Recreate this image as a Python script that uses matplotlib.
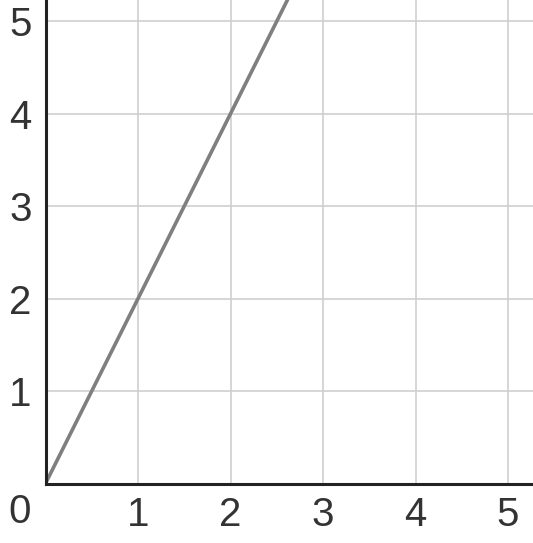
import matplotlib
matplotlib.use("Agg")
import matplotlib.pyplot as plt

line_x = [0, 2.7]
line_y = [0, 5.4]
x_ticks = [1, 2, 3, 4, 5]
y_ticks = [1, 2, 3, 4, 5]
origin_label = "0"

W, H = 533, 543
fig = plt.figure(figsize=(W / 100, H / 100), dpi=100)
x0, y0 = 45.5, 483.5
ax = fig.add_axes([x0 / W, (H - y0) / H, (W - x0) / W, y0 / H])
ax.set_xlim(0, 5.27)
ax.set_ylim(0, 5.23)

for t in x_ticks:
    ax.axvline(t, color="#cfcfcf", lw=1.2, zorder=1)
for t in y_ticks:
    ax.axhline(t, color="#cfcfcf", lw=1.2, zorder=1)

ax.plot(line_x, line_y, color="#7f7f7f", lw=2.6, zorder=3, solid_capstyle="butt")

for s in ["top", "right"]:
    ax.spines[s].set_visible(False)
for s in ["left", "bottom"]:
    ax.spines[s].set_color("#222222")
    ax.spines[s].set_linewidth(2.2)
    ax.spines[s].set_zorder(4)

fs = 29
ax.set_xticks(x_ticks)
ax.set_xticklabels([str(t) for t in x_ticks])
ax.set_yticks(y_ticks)
ax.set_yticklabels([str(t) for t in y_ticks])
ax.tick_params(axis="x", length=0, labelsize=fs, labelcolor="#333333", pad=9)
ax.tick_params(axis="y", length=0, labelsize=fs, labelcolor="#333333", pad=10)
for lab in ax.get_xticklabels() + ax.get_yticklabels():
    lab.set_fontfamily(["Liberation Sans", "DejaVu Sans"])

fig.text(20 / W, 1 - 512 / H, origin_label, fontsize=fs, color="#333333",
         ha="center", va="center", family=["Liberation Sans", "DejaVu Sans"])

fig.savefig("out.png", dpi=100)
